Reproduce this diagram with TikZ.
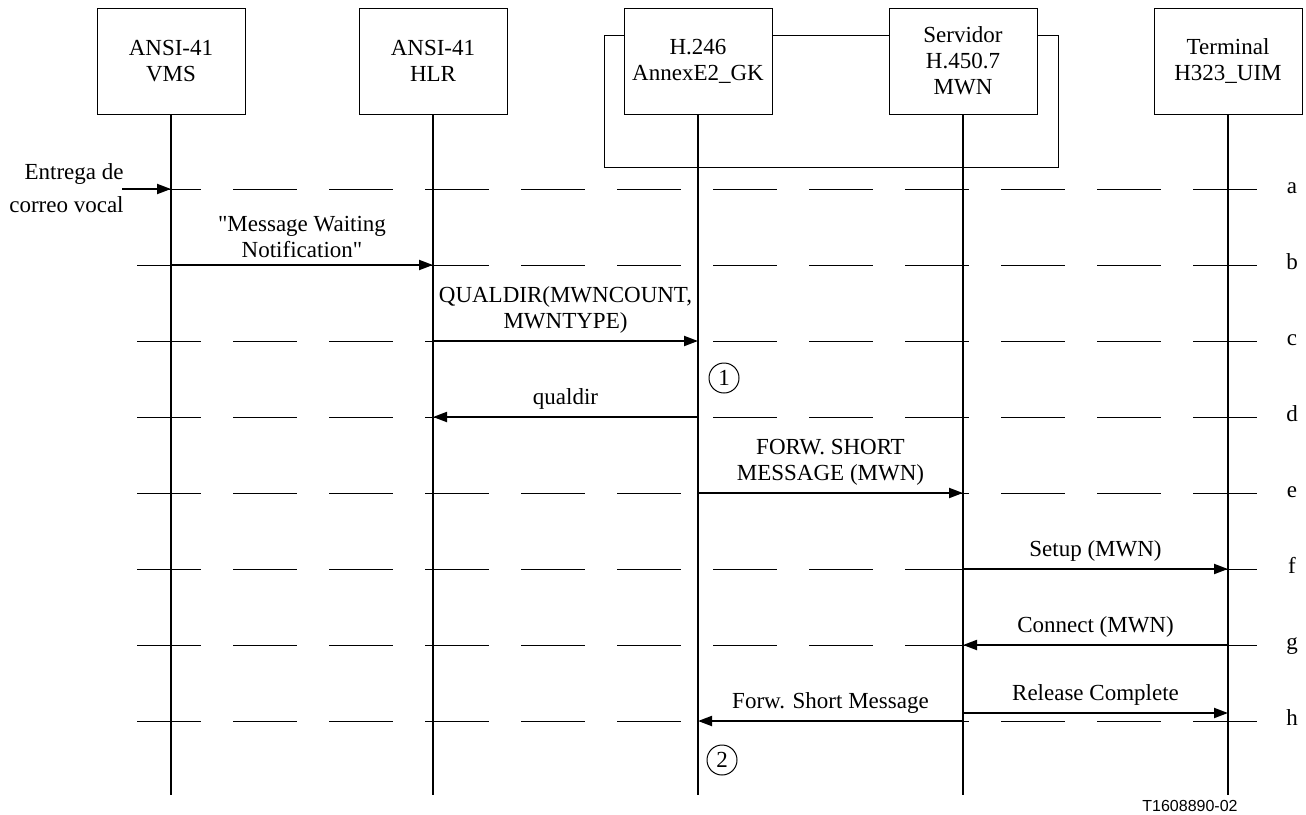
\documentclass[tikz,border=0pt]{standalone}
\usepackage{fontspec}
\setmainfont{Liberation Serif}
\newfontfamily\tagfont{Liberation Sans}
\usetikzlibrary{arrows.meta}

\begin{document}
\begin{tikzpicture}[
   x=0.5pt, y=-0.5pt,
   font=\fontsize{11.5}{13}\selectfont,
   entity/.style={rectangle, draw=black, fill=white, line width=0.5,
                  minimum width=74pt, minimum height=53pt, align=center, inner sep=2},
   life/.style={draw=black, line width=1},
   row/.style={draw=black, line width=0.5, dash pattern=on 32pt off 16pt},
   msg/.style={-{Triangle[length=7pt, width=5pt]}, draw=black, line width=1},
   msglabel/.style={midway, above, align=center},
   rowlabel/.style={anchor=mid},
   numcirc/.style={circle, draw=black, line width=0.5, inner sep=0, minimum size=15pt}
  ]

  \useasboundingbox (0, 0) rectangle (1306, 814);

  % Row spacing
  \pgfmathsetmacro{\d}{76}

  % Rows a..h
  \foreach \l/\i in {a/0, b/1, c/2, d/3, e/4, f/5, g/6, h/7} {
    \coordinate (\l0) at (137, {189 + \i * \d});
    \coordinate (\l1) at (1260, {189 + \i * \d});
    \node (lab\l) at (1292, {189 + \i * \d}) [rowlabel] {\l};
    \draw[row] (\l0) -- (\l1);
  }

  % Gatekeeper / server frame
  \draw[black, line width=0.5] (604, 35) rectangle (1058, 167);

  \node (vms) at (171, 61) [entity] {ANSI-41\\VMS};
  \node (hlr) at (433, 61) [entity] {ANSI-41\\HLR};
  \node (gk) at (698, 61) [entity] {H.246\\AnnexE2\_GK};
  \node (mwn) at (963, 61) [entity] {Servidor\\H.450.7\\MWN};
  \node (uim) at (1228, 61) [entity] {Terminal\\H323\_UIM};

  \coordinate (bot) at (0, 795);
  \foreach \n in {vms, hlr, gk, mwn, uim} {
    \draw[life] (\n.south) -- (\n.south |- bot);
  }

  \node (ent) at (124, 188) [anchor=east, align=right, inner sep=0] {Entrega de\\[3.5pt]correo vocal};
  \coordinate (src) at (122, 189);
  \draw[msg] (src) -- (vms |- a0);

  \foreach \B/\E/\r/\t in {vms/hlr/b/{\textquotedbl Message Waiting\\Notification\textquotedbl},
                           hlr/gk/c/{QUALDIR(MWNCOUNT,\\MWNTYPE)},
                           gk/hlr/d/{qualdir},
                           gk/mwn/e/{FORW. SHORT\\MESSAGE (MWN)},
                           mwn/uim/f/{Setup (MWN)},
                           uim/mwn/g/{Connect (MWN)},
                           mwn/gk/h/{Forw. Short Message}} {
    \draw[msg] (\B |- \r0) -- (\E |- \r0) node[msglabel] {\t};
  }
  \draw[msg] ([yshift=4pt]mwn |- h0) -- ([yshift=4pt]uim |- h0) node[msglabel] {Release Complete};

  \node (n1) at (724, 378) [numcirc] {1};
  \node (n2) at (722, 760) [numcirc] {2};

  \node (tag) at (1190, 806) [font=\tagfont\fontsize{8}{9}\selectfont] {T1608890-02};

\end{tikzpicture}
\end{document}
